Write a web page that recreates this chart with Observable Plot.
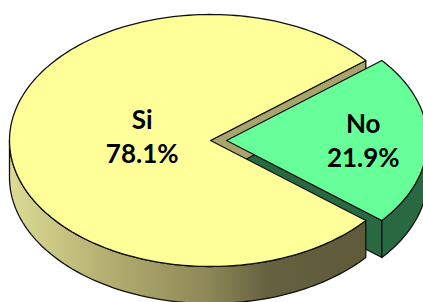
<!DOCTYPE html>
<html><head><meta charset="utf-8">
<script src="https://cdn.jsdelivr.net/npm/d3@7"></script>
<script src="https://cdn.jsdelivr.net/npm/@observablehq/plot@0.6"></script>
<style>html,body{margin:0;padding:0;background:#fff;overflow:hidden}</style>
</head><body><div id="chart"></div>
<script>
// ---- data ----
const categories = ["Si", "No"];
const values = [78.1, 21.9];
const valueLabels = ["78.1%", "21.9%"];

// ---- layout / style (not data) ----
const W = 423, H = 302;
const CX = 210, CY = 140, RX = 201, RY = 126, DEPTH = 37;
const explodeFrac = [0, 0.08];
const labelR = [0.34, 0.68];
const labelDy = [-5.5, -1.5];
const topColors = ["#ffff99", "#66ff99"];
const sideColors = ["url(#siSide)", "#286941"];
const cutColors = ["#a9a46c", "#286941"];

const D = DEPTH / RY;
const total = d3.sum(values);

// slice angles (counter-clockwise), "No" centred on the right
const order = [1, 0];
const slices = [];
let a = -Math.PI * values[1] / total;
for (const i of order) {
  const a0 = a, a1 = a + 2 * Math.PI * values[i] / total;
  a = a1;
  const mid = (a0 + a1) / 2;
  slices[i] = {i, a0, a1, mid, dx: explodeFrac[i] * Math.cos(mid), dy: explodeFrac[i] * Math.sin(mid)};
}

function pt(s, ang, r, z) {
  return {x: s.dx + r * Math.cos(ang), y: s.dy + r * Math.sin(ang) - z};
}
function arc(s, b0, b1, z) {
  const n = Math.max(2, Math.ceil(Math.abs(b1 - b0) / (Math.PI / 120)) + 1);
  return d3.range(n).map(k => pt(s, b0 + (b1 - b0) * k / (n - 1), 1, z));
}
function topFace(s) { return [pt(s, 0, 0, 0), ...arc(s, s.a0, s.a1, 0)]; }
function sideFace(s) {
  // visible outer wall: angles within [pi, 2pi] (mod 2pi)
  let b0 = s.a0, b1 = s.a1;
  while (b0 < 0) { b0 += 2 * Math.PI; b1 += 2 * Math.PI; }
  const pts = [];
  for (const [f0, f1] of [[Math.PI, 2 * Math.PI], [3 * Math.PI, 4 * Math.PI]]) {
    const s0 = Math.max(b0, f0), s1 = Math.min(b1, f1);
    if (s1 > s0) pts.push(...arc(s, s0, s1, 0), ...arc(s, s1, s0, D));
  }
  return pts;
}
function cutFace(s) {
  const e = Math.cos(s.a0) > 0 ? s.a0 : (Math.cos(s.a1) < 0 ? s.a1 : null);
  if (e === null) return [];
  return [pt(s, 0, 0, 0), pt(s, e, 1, 0), pt(s, e, 1, D), pt(s, 0, 0, D)];
}

const S = slices[0], N = slices[1];
const faceStyle = {x: "x", y: "y", curve: "linear-closed", stroke: "#111", strokeWidth: 1.3, strokeLinejoin: "round"};
const face = (pts, fill) => Plot.line(pts, {...faceStyle, fill});

const gradient = () => {
  const defs = document.createElementNS("http://www.w3.org/2000/svg", "defs");
  defs.innerHTML = `<linearGradient id="siSide" x1="0" x2="1" y1="0" y2="0">
    <stop offset="0" stop-color="#dcdc95"/>
    <stop offset="0.26" stop-color="#b6b172"/>
    <stop offset="0.56" stop-color="#8c8756"/>
    <stop offset="0.72" stop-color="#666240"/>
    <stop offset="1" stop-color="#5e5a3a"/>
  </linearGradient>`;
  return defs;
};

const labelData = slices.map(s => ({
  x: s.dx + labelR[s.i] * Math.cos(s.mid),
  y: s.dy + labelR[s.i] * Math.sin(s.mid),
  text: categories[s.i] + "\n" + valueLabels[s.i],
  i: s.i
}));

const chart = Plot.plot({
  width: W, height: H,
  margin: 0,
  x: {domain: [-CX / RX, (W - CX) / RX], range: [0, W], axis: null},
  y: {domain: [(CY - H) / RY, CY / RY], range: [H, 0], axis: null},
  style: {background: "white", overflow: "hidden"},
  marks: [
    gradient,
    face(cutFace(N), cutColors[1]),
    face(sideFace(N), sideColors[1]),
    face(sideFace(S), sideColors[0]),
    face(cutFace(S), cutColors[0]),
    face(topFace(S), topColors[0]),
    face(topFace(N), topColors[1]),
    ...labelData.map(d => Plot.text([d], {
      x: "x", y: "y", text: "text", dy: labelDy[d.i],
      fontSize: 26, fontWeight: "bold", fontFamily: "Lato, 'Open Sans', sans-serif",
      lineHeight: 1.31, fill: "black"
    }))
  ]
});
document.getElementById("chart").appendChild(chart);
</script>
</body></html>
